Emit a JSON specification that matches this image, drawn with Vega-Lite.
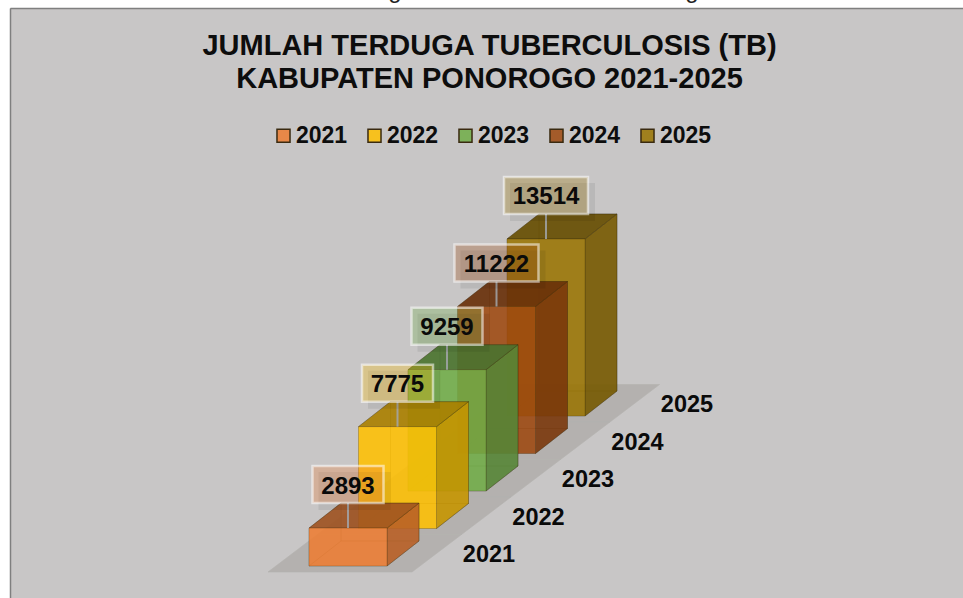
{
"$schema":"https://vega.github.io/schema/vega-lite/v6.json",
"width":953,"height":590,
"padding":{"left":10,"top":8,"right":0,"bottom":0},
"autosize":"none",
"background":"#ffffff",
"config":{"view":{"stroke":null,"fill":"#c8c6c6"},"font":"Liberation Sans"},
"title":{"text":["JUMLAH TERDUGA TUBERCULOSIS (TB)","KABUPATEN PONOROGO 2021-2025"],"orient":"top","anchor":"middle","frame":"group","offset":-115,"dx":3,"fontSize":29,"lineHeight":33.5,"font":"Liberation Sans","fontWeight":"bold","color":"#0d0d0d"},
"data":{"values":[
{"year":2025,"value":13514},
{"year":2024,"value":11222},
{"year":2023,"value":9259},
{"year":2022,"value":7775},
{"year":2021,"value":2893}
]},
"transform":[
{"calculate":"datum.year-2021","as":"i"},
{"calculate":"309+49.5*datum.i","as":"x0"},
{"calculate":"datum.x0+78","as":"x1"},
{"calculate":"566-37.5*datum.i","as":"b"},
{"calculate":"datum.b-datum.value*0.0131","as":"t"},
{"calculate":"''+datum.year","as":"ck"},
{"calculate":"''+datum.value","as":"lab"},
{"calculate":"datum.x0+39","as":"cx"},
{"calculate":"length(datum.lab)==5?42:35.5","as":"hw"},
{"calculate":"datum.cx-datum.hw","as":"bl"},
{"calculate":"datum.cx+datum.hw","as":"br"},
{"calculate":"datum.t-25","as":"bb"},
{"calculate":"datum.bb-37","as":"bt"},
{"calculate":"datum.bb-16.5","as":"bm"},
{"calculate":"datum.x0+180","as":"catx"},
{"calculate":"datum.b-11","as":"caty"}
],
"encoding":{
"x":{"type":"quantitative","scale":{"domain":[10,963],"nice":false,"zero":false},"axis":{"orient":"top","title":null,"labels":false,"ticks":false,"grid":false,"domain":true,"domainColor":"#7f7f7f","domainWidth":1.5}},
"y":{"type":"quantitative","scale":{"domain":[598,8],"nice":false,"zero":false},"axis":{"orient":"left","title":null,"labels":false,"ticks":false,"grid":false,"domain":true,"domainColor":"#7f7f7f","domainWidth":1.5}}
},
"layer":[
{
"transform":[
{"calculate":"[{x:datum.x0-41,a:datum.b+6,c:datum.b+6},{x:datum.x0+8.5,a:datum.b-31.5,c:datum.b+6},{x:datum.x0+103,a:datum.b-31.5,c:datum.b+6},{x:datum.x0+152.5,a:datum.b-31.5,c:datum.b-31.5}]","as":"p"},
{"flatten":["p"]},
{"calculate":"datum.p.x","as":"k"},
{"calculate":"datum.p.a","as":"a"},
{"calculate":"datum.p.c","as":"c"}
],
"mark":{"type":"area","orient":"vertical","fill":"#b4b1af","stroke":"#b4b1af","strokeWidth":0.6},
"encoding":{
"x":{"field":"k","type":"quantitative"},
"y":{"field":"a","type":"quantitative","stack":null},
"y2":{"field":"c"},
"detail":{"field":"year"}
}
},
{
"transform":[
{"calculate":"[{f:'back',x:datum.x0+32,a:datum.t-25,c:datum.b-25},{f:'back',x:datum.x1+32,a:datum.t-25,c:datum.b-25},{f:'left',x:datum.x0,a:datum.t,c:datum.b},{f:'left',x:datum.x0+32,a:datum.t-25,c:datum.b-25},{f:'bottom',x:datum.x0,a:datum.b,c:datum.b},{f:'bottom',x:datum.x0+32,a:datum.b-25,c:datum.b},{f:'bottom',x:datum.x1,a:datum.b-25,c:datum.b},{f:'bottom',x:datum.x1+32,a:datum.b-25,c:datum.b-25},{f:'right',x:datum.x1,a:datum.t,c:datum.b},{f:'right',x:datum.x1+32,a:datum.t-25,c:datum.b-25},{f:'rightS',x:datum.x1,a:datum.t,c:datum.b},{f:'rightS',x:datum.x1+32,a:datum.t-25,c:datum.b-25},{f:'top',x:datum.x0,a:datum.t,c:datum.t},{f:'top',x:datum.x0+32,a:datum.t-25,c:datum.t},{f:'top',x:datum.x1,a:datum.t-25,c:datum.t},{f:'top',x:datum.x1+32,a:datum.t-25,c:datum.t-25},{f:'topS',x:datum.x0,a:datum.t,c:datum.t},{f:'topS',x:datum.x0+32,a:datum.t-25,c:datum.t},{f:'topS',x:datum.x1,a:datum.t-25,c:datum.t},{f:'topS',x:datum.x1+32,a:datum.t-25,c:datum.t-25},{f:'front',x:datum.x0,a:datum.t,c:datum.b},{f:'front',x:datum.x1,a:datum.t,c:datum.b}]","as":"p"},
{"flatten":["p"]},
{"calculate":"datum.p.x","as":"k"},
{"calculate":"datum.p.a","as":"a"},
{"calculate":"datum.p.c","as":"c"},
{"calculate":"datum.p.f","as":"f"},
{"calculate":"datum.year+datum.f","as":"g"},
{"calculate":"datum.f=='rightS'?'shadeR':datum.f=='topS'?'shadeT':(datum.f=='back'||datum.f=='left'||datum.f=='bottom')?'g'+datum.year:''+datum.year","as":"ck"}
],
"mark":{"type":"area","orient":"vertical","stroke":"#3a2a10","strokeOpacity":0.3,"strokeWidth":0.6},
"encoding":{
"x":{"field":"k","type":"quantitative"},
"y":{"field":"a","type":"quantitative","stack":null},
"y2":{"field":"c"},
"detail":{"field":"g"},
"color":{"field":"ck","type":"nominal","scale":{"domain":["2021","2022","2023","2024","2025","g2021","g2022","g2023","g2024","g2025","shadeR","shadeT"],"range":["#ed7d31d9","#ffc000d9","#70ad47d9","#9e480ed9","#997300d9","#ed7d311f","#ffc0001f","#70ad471f","#9e480e1f","#9973001f","#00000033","#0000004d"]},
"legend":{"title":null,"values":["2021","2022","2023","2024","2025"],"orient":"none","legendX":262,"legendY":116,"direction":"horizontal","columns":5,"columnPadding":15,"symbolType":"square","symbolSize":170,"labelFont":"Liberation Sans","labelFontWeight":"bold","labelFontSize":23,"labelColor":"#0d0d0d","labelOffset":1,"encode":{"symbols":{"update":{"opacity":{"value":1},"stroke":{"value":"#6b4a20"},"strokeWidth":{"value":2},"strokeOpacity":{"value":0.7}}}}}}
}
},
{
"mark":{"type":"rule","color":"#a2a6aa","strokeWidth":2,"opacity":0.85},
"encoding":{
"x":{"field":"cx","type":"quantitative"},
"x2":{"field":"cx"},
"y":{"field":"bb","type":"quantitative"},
"y2":{"field":"t"}
}
},
{
"mark":{"type":"rect","fill":"#000000","opacity":0.07},
"transform":[
{"calculate":"datum.bl+6","as":"sl"},
{"calculate":"datum.br+7","as":"sr"},
{"calculate":"datum.bt+6","as":"st"},
{"calculate":"datum.bb+7","as":"sb"}
],
"encoding":{
"x":{"field":"sl","type":"quantitative"},
"x2":{"field":"sr"},
"y":{"field":"st","type":"quantitative"},
"y2":{"field":"sb"}
}
},
{
"mark":{"type":"rect","fillOpacity":0.35,"stroke":"#ffffff","strokeOpacity":0.55,"strokeWidth":2.5},
"encoding":{
"x":{"field":"bl","type":"quantitative"},
"x2":{"field":"br"},
"y":{"field":"bt","type":"quantitative"},
"y2":{"field":"bb"},
"color":{"field":"ck","type":"nominal"}
}
},
{
"mark":{"type":"text","font":"Liberation Sans","fontWeight":"bold","fontSize":24,"color":"#0a0a0a","align":"center","baseline":"middle"},
"encoding":{
"x":{"field":"cx","type":"quantitative"},
"y":{"field":"bm","type":"quantitative"},
"text":{"field":"lab"}
}
},
{
"mark":{"type":"text","font":"Liberation Sans","fontWeight":"bold","fontSize":23.5,"color":"#0a0a0a","align":"center","baseline":"middle"},
"encoding":{
"x":{"field":"catx","type":"quantitative"},
"y":{"field":"caty","type":"quantitative"},
"text":{"field":"ck"}
}
},
{
"data":{"values":[{"t":"g","px":395,"py":-2},{"t":"g","px":692,"py":-2}]},
"transform":[],
"mark":{"type":"text","font":"Liberation Sans","fontSize":24,"color":"#222222","align":"center","baseline":"alphabetic"},
"encoding":{
"x":{"field":"px","type":"quantitative"},
"y":{"field":"py","type":"quantitative"},
"text":{"field":"t"}
}
}
]
}
